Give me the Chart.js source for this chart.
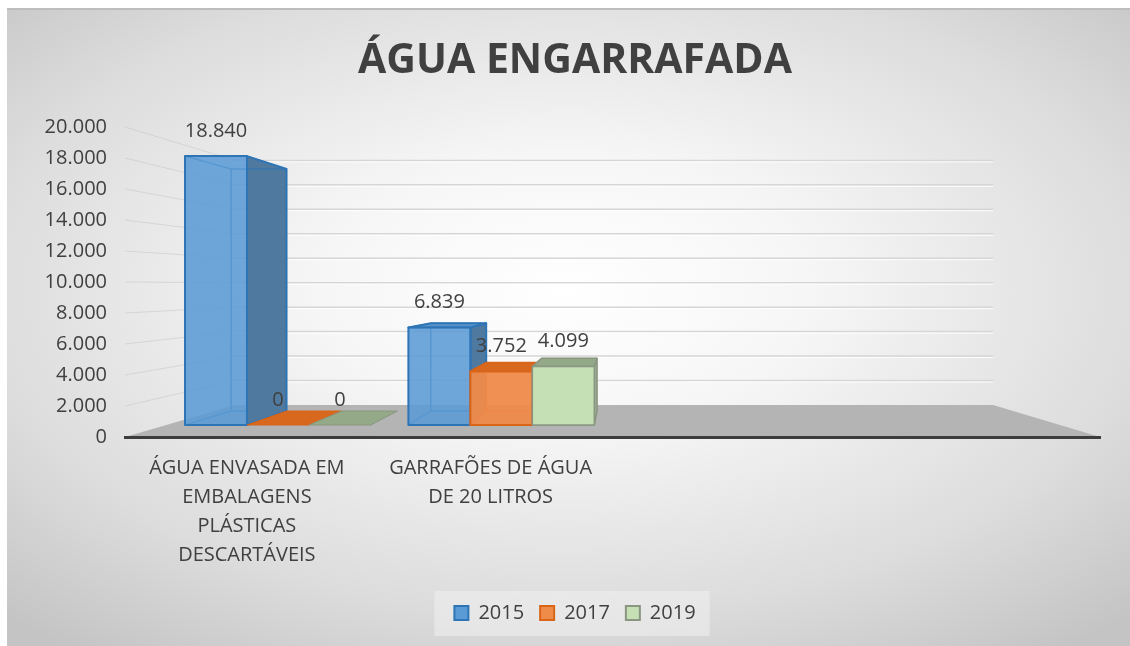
<!DOCTYPE html>
<html>
<head>
<meta charset="utf-8">
<title>ÁGUA ENGARRAFADA</title>
<script src="https://cdn.jsdelivr.net/npm/chart.js@4.4.0/dist/chart.umd.min.js"></script>
<style>
  html, body { margin: 0; padding: 0; background: #fff; }
  #wrap { width: 1130px; height: 646px; }
</style>
</head>
<body>
<div id="wrap"><canvas id="grafico" width="1130" height="646"></canvas></div>
<script>
// dados do grafico
var titulo = 'ÁGUA ENGARRAFADA';
var categorias = [
  ['ÁGUA ENVASADA EM', 'EMBALAGENS', 'PLÁSTICAS', 'DESCARTÁVEIS'],
  ['GARRAFÕES DE ÁGUA', 'DE 20 LITROS'],
  '',
  ''
];
var anos = ['2015', '2017', '2019'];
var valores2015 = [18840, 6839, null, null];
var valores2017 = [0, 3752, null, null];
var valores2019 = [0, 4099, null, null];
var ticksY = [0, 2000, 4000, 6000, 8000, 10000, 12000, 14000, 16000, 18000, 20000];

// estilos
var fonte = "'Open Sans', 'DejaVu Sans', sans-serif";
var corTexto = '#404040';
var centroX = 575;
var cores = [
  { frente: 'rgba(91,155,213,0.88)', lado: '#50799f', topo: '#5a93cc', borda: '#2e75b6', legenda: '#5b9bd5' },
  { frente: 'rgba(240,138,74,0.95)', lado: '#c9621f', topo: '#d9681f', borda: '#d86518', legenda: '#f08c4a' },
  { frente: '#c5e0b4', lado: '#9aac90', topo: '#93a987', borda: '#8a9682', legenda: '#c5e0b4' }
];
// perspectiva: fundo do piso, recuo das paredes, encolhimento
var persp = { fundo: 32, recuoEsq: 110, recuoDir: 107, encolhe: 0.211, dFrente: 0.375, dTras: 0.8125 };

function milhar(v) {
  return String(v).replace(/\B(?=(\d{3})+(?!\d))/g, '.');
}

// ponto no plano de profundidade d (0 = frente, 1 = parede do fundo)
function ponto(ca, x, h, d) {
  var xl = ca.left + d * persp.recuoEsq;
  var xr = ca.right - d * persp.recuoDir;
  return {
    x: xl + (x - ca.left) * (xr - xl) / (ca.right - ca.left),
    y: ca.bottom - d * persp.fundo - h * (1 - d * persp.encolhe)
  };
}

function poli(ctx, pts, fill, stroke, lw) {
  ctx.beginPath();
  ctx.moveTo(pts[0].x, pts[0].y);
  for (var i = 1; i < pts.length; i++) ctx.lineTo(pts[i].x, pts[i].y);
  ctx.closePath();
  if (fill) { ctx.fillStyle = fill; ctx.fill(); }
  if (stroke) { ctx.strokeStyle = stroke; ctx.lineWidth = lw || 1; ctx.lineJoin = 'round'; ctx.stroke(); }
}

var grafico3d = {
  id: 'grafico3d',
  afterLayout: function (chart) {
    // centraliza a legenda como no original
    var lg = chart.legend;
    if (!lg) return;
    var dx = centroX - (lg.left + lg.right) / 2;
    lg.left += dx; lg.right += dx;
  },
  beforeDraw: function (chart) {
    var ctx = chart.ctx, ca = chart.chartArea, ys = chart.scales.y;
    ctx.save();
    // fundo com degrade
    ctx.fillStyle = '#fff';
    ctx.fillRect(0, 0, chart.width, chart.height);
    ctx.save();
    ctx.translate(565, 290);
    ctx.scale(1, 0.55);
    var g = ctx.createRadialGradient(0, 0, 0, 0, 0, 820);
    g.addColorStop(0, '#ffffff');
    g.addColorStop(0.3, '#f6f6f6');
    g.addColorStop(0.72, '#dcdcdc');
    g.addColorStop(1, '#c4c4c4');
    ctx.fillStyle = g;
    ctx.fillRect(7 - 565, (9 - 290) / 0.55, 1130, 700 / 0.55);
    ctx.restore();
    ctx.fillStyle = '#bdbdbd';
    ctx.fillRect(7, 8, 1123, 2);

    // titulo
    ctx.fillStyle = corTexto;
    ctx.font = 'bold 41px ' + fonte;
    ctx.textAlign = 'center';
    ctx.textBaseline = 'middle';
    ctx.fillText(titulo, centroX, 61);

    // piso
    var f0 = ponto(ca, ca.left, 0, 0), f1 = ponto(ca, ca.right, 0, 0);
    var b0 = ponto(ca, ca.left, 0, 1), b1 = ponto(ca, ca.right, 0, 1);
    poli(ctx, [f0, b0, b1, f1], '#b4b4b4');

    // linhas de grade: parede esquerda e parede do fundo
    ticksY.forEach(function (v) {
      if (v === 0) return;
      var h = ca.bottom - ys.getPixelForValue(v);
      var a = ponto(ca, ca.left, h, 0), b = ponto(ca, ca.left, h, 1), c = ponto(ca, ca.right, h, 1);
      ctx.lineWidth = 1;
      ctx.strokeStyle = 'rgba(200,200,200,0.6)';
      ctx.beginPath(); ctx.moveTo(a.x, a.y); ctx.lineTo(b.x, b.y); ctx.stroke();
      ctx.strokeStyle = '#d6d6d6';
      ctx.lineWidth = 1.5;
      ctx.beginPath(); ctx.moveTo(b.x, b.y); ctx.lineTo(c.x, c.y); ctx.stroke();
      ctx.strokeStyle = 'rgba(255,255,255,0.9)';
      ctx.lineWidth = 1;
      ctx.beginPath(); ctx.moveTo(b.x, b.y + 1.5); ctx.lineTo(c.x, c.y + 1.5); ctx.stroke();
    });

    // caixa da legenda
    var lg = chart.legend;
    if (lg && lg.legendHitBoxes && lg.legendHitBoxes.length) {
      var hb = lg.legendHitBoxes;
      var l = hb[0].left, r = hb[hb.length - 1].left + hb[hb.length - 1].width;
      var cy = hb[0].top + hb[0].height / 2;
      ctx.fillStyle = 'rgba(240,240,240,0.55)';
      ctx.fillRect(l - 20, cy - 22, r - l + 34, 45);
    }
    ctx.restore();
  },
  beforeDatasetsDraw: function (chart) {
    var ctx = chart.ctx, ca = chart.chartArea;
    var rotulos = [];
    ctx.save();
    var n = chart.data.labels.length;
    for (var j = 0; j < n; j++) {
      for (var i = 0; i < chart.data.datasets.length; i++) {
        var v = chart.data.datasets[i].data[j];
        if (v === null || v === undefined) continue;
        var el = chart.getDatasetMeta(i).data[j];
        var cor = cores[i];
        var xl = el.x - el.width / 2, xr = el.x + el.width / 2;
        var h = el.base - el.y;
        var d1 = persp.dFrente, d2 = persp.dTras;
        var fbl = ponto(ca, xl, 0, d1), fbr = ponto(ca, xr, 0, d1);
        var ftl = ponto(ca, xl, h, d1), ftr = ponto(ca, xr, h, d1);
        var bbl = ponto(ca, xl, 0, d2), bbr = ponto(ca, xr, 0, d2);
        var btl = ponto(ca, xl, h, d2), btr = ponto(ca, xr, h, d2);
        var lw = i === 2 ? 1.5 : 2;
        // arestas de tras (vistas pela transparencia)
        if (h > 0) {
          poli(ctx, [bbl, btl, btr, bbr], null, cor.borda, 1);
          poli(ctx, [fbl, bbl, btl, ftl], null, cor.borda, 1);
          poli(ctx, [fbl, fbr, bbr, bbl], null, cor.borda, 1);
          // lado direito
          poli(ctx, [fbr, bbr, btr, ftr], cor.lado, cor.borda, lw);
        }
        // topo
        if (ftl.y >= btl.y) {
          poli(ctx, [ftl, ftr, btr, btl], cor.topo, cor.borda, h > 0 ? lw : 1);
        } else {
          poli(ctx, [ftl, ftr, btr, btl], null, cor.borda, 1);
        }
        // frente
        if (h > 0) {
          poli(ctx, [fbl, ftl, ftr, fbr], cor.frente, cor.borda, lw);
        }
        rotulos.push({ x: (ftl.x + ftr.x) / 2, y: ftl.y - 25, t: milhar(v) });
      }
    }
    ctx.fillStyle = corTexto;
    ctx.font = '20px ' + fonte;
    ctx.textAlign = 'center';
    ctx.textBaseline = 'middle';
    rotulos.forEach(function (r) { ctx.fillText(r.t, r.x, r.y); });
    ctx.restore();
    return false;
  }
};

var conjuntos = [valores2015, valores2017, valores2019].map(function (vals, i) {
  return {
    label: anos[i],
    data: vals,
    backgroundColor: cores[i].legenda,
    borderColor: cores[i].borda,
    borderWidth: 2,
    categoryPercentage: 0.832,
    barPercentage: 1.0
  };
});

new Chart(document.getElementById('grafico'), {
  type: 'bar',
  data: { labels: categorias, datasets: conjuntos },
  plugins: [grafico3d],
  options: {
    responsive: false,
    animation: false,
    devicePixelRatio: 1,
    layout: { padding: { left: 0, right: 30, top: 127, bottom: 13 } },
    plugins: {
      title: { display: false },
      legend: {
        position: 'bottom',
        labels: {
          color: corTexto,
          font: { family: fonte, size: 20 },
          boxWidth: 14,
          boxHeight: 14,
          padding: 16
        }
      },
      tooltip: { enabled: false }
    },
    scales: {
      x: {
        grid: { display: false, drawTicks: false },
        border: { display: true, color: '#3c3c3c', width: 3 },
        ticks: {
          color: corTexto,
          font: { family: fonte, size: 20, lineHeight: 1.45 },
          padding: 17,
          maxRotation: 0,
          autoSkip: false
        },
        afterFit: function (s) { s.height = 150; }
      },
      y: {
        min: 0,
        max: 20000,
        grid: { display: false, drawTicks: false },
        border: { display: false },
        ticks: {
          color: corTexto,
          font: { family: fonte, size: 20 },
          padding: 18,
          callback: function (v) { return milhar(v); }
        },
        afterBuildTicks: function (s) {
          s.ticks = ticksY.map(function (v) { return { value: v }; });
        },
        afterFit: function (s) { s.width = 125; }
      }
    }
  }
});
</script>
</body>
</html>
